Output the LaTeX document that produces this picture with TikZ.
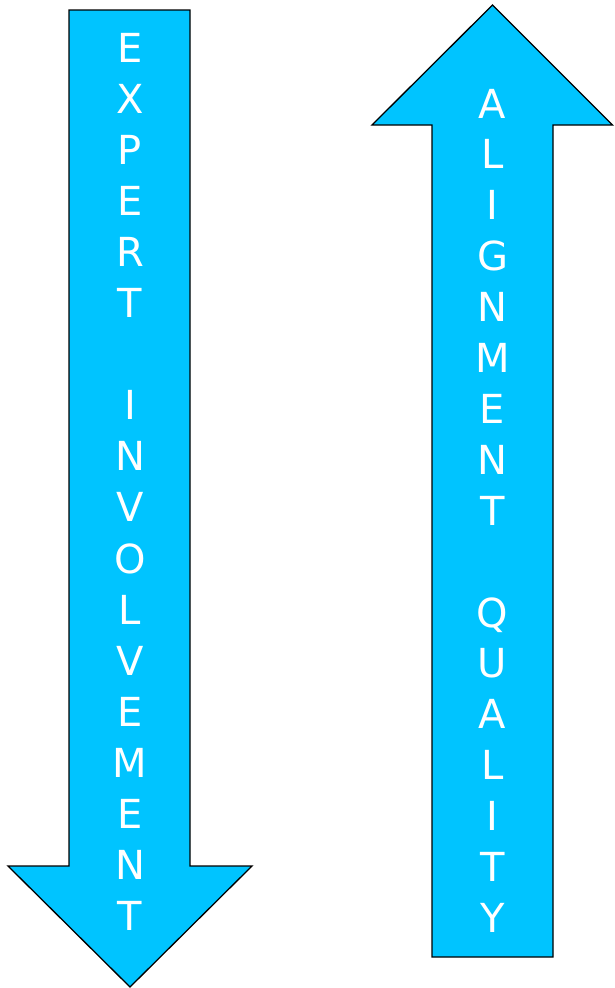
\documentclass[tikz,border=0pt]{standalone}
\usepackage{fontspec}
\setmainfont{DejaVu Sans}
\definecolor{arrowfill}{HTML}{00C4FF}
\begin{document}
\begin{tikzpicture}[x=1pt,y=-1pt,
  arrowshape/.style={fill=arrowfill, draw=black, line width=1.3pt, line join=miter},
  letter/.style={text=white, font=\fontsize{40}{48}\selectfont, anchor=base, inner sep=0pt}]
\useasboundingbox (0,0) rectangle (614,988);
% down arrow
\draw[arrowshape] (69,10) -- (190,10) -- (190,866) -- (252,866) -- (130,987) -- (8,866) -- (69,866) -- cycle;
% up arrow
\draw[arrowshape] (492.5,5) -- (612.5,125) -- (553,125) -- (553,957) -- (432,957) -- (432,125) -- (372,125) -- cycle;
% left text
\foreach \t [count=\i] in {E,X,P,E,R,T} {
  \pgfmathsetmacro\yy{62+(\i-1)*51.1}
  \node[letter] (la\i) at (130,\yy) {\t};
}
\foreach \t [count=\i] in {I,N,V,O,L,V,E,M,E,N,T} {
  \pgfmathsetmacro\yy{62+(\i+6)*51.1}
  \node[letter] (lb\i) at (130,\yy) {\t};
}
% right text
\foreach \t [count=\i] in {A,L,I,G,N,M,E,N,T} {
  \pgfmathsetmacro\yy{118+(\i-1)*50.9}
  \node[letter] (ra\i) at (492.5,\yy) {\t};
}
\foreach \t [count=\i] in {Q,U,A,L,I,T,Y} {
  \pgfmathsetmacro\yy{118+(\i+9)*50.9}
  \node[letter] (rb\i) at (492.5,\yy) {\t};
}
\end{tikzpicture}
\end{document}
